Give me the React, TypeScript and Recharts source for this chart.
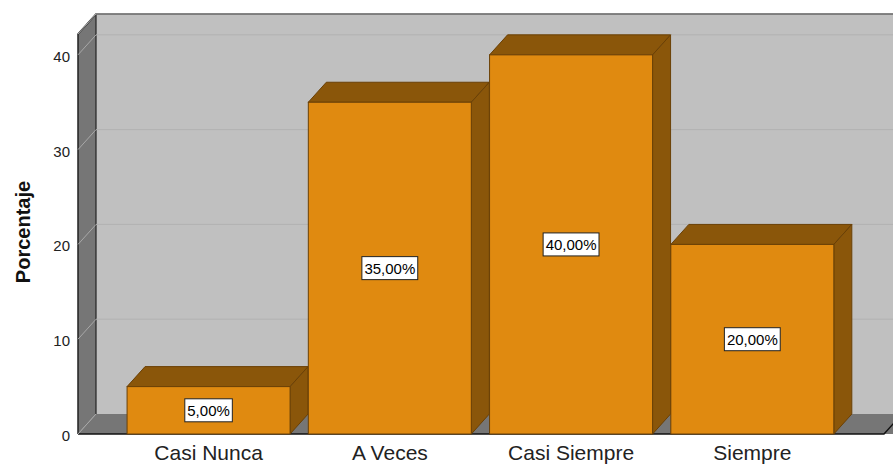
import React from 'react';
import { BarChart, Bar, XAxis, YAxis, CartesianGrid, LabelList } from 'recharts';

const CATEGORIES = ['Casi Nunca', 'A Veces', 'Casi Siempre', 'Siempre'];
const PERCENTAGES = [5, 35, 40, 20];
const Y_TICKS = [0, 10, 20, 30, 40];

const data = CATEGORIES.map((name, i) => ({ name, value: PERCENTAGES[i] }));

// depth of the 3D effect
const DX = 18;
const DY = -20;

const FONT = '"Liberation Sans", Arial, sans-serif';
const FRONT = '#E08A10';
const DARK = '#8A560A';
const EDGE = '#6A4006';

const Bar3D = (props: any) => {
  const { x, y, width: w, height: h } = props;
  if (w == null || h == null) return null;
  return (
    <g>
      <polygon
        points={`${x},${y} ${x + DX},${y + DY} ${x + w + DX},${y + DY} ${x + w},${y}`}
        fill={DARK}
        stroke={EDGE}
        strokeWidth={1}
      />
      <polygon
        points={`${x + w},${y} ${x + w + DX},${y + DY} ${x + w + DX},${y + h + DY} ${x + w},${y + h}`}
        fill={DARK}
        stroke={EDGE}
        strokeWidth={1}
      />
      <rect x={x} y={y} width={w} height={h} fill={FRONT} stroke={EDGE} strokeWidth={1} />
    </g>
  );
};

// walls, floor and grid lines drawn through the grid's line callback
const GridLine = (props: any) => {
  const { x1, x2, y1, index } = props;
  const top = props.y ?? props.offset?.top;
  const height = props.height ?? props.offset?.height;
  const bottom = top + height;
  const w = x2 - x1;
  const isBottom = Math.abs(y1 - bottom) < 0.5;
  return (
    <g>
      {index === 0 && (
        <g>
          <rect x={x1 + DX} y={top + DY} width={w + 20} height={height} fill="#C0C0C0" />
          <polygon
            points={`${x1},${top} ${x1 + DX},${top + DY} ${x1 + DX},${bottom + DY} ${x1},${bottom}`}
            fill="#767676"
          />
          <polygon
            points={`${x1},${bottom} ${x1 + DX},${bottom + DY} ${x2 + DX + 20},${bottom + DY} ${x2 + 20},${bottom} ${x2},${bottom}`}
            fill="#767676"
          />
          <polyline
            points={`${x1},${bottom} ${x1},${top} ${x1 + DX},${top + DY} ${x2 + DX + 20},${top + DY}`}
            fill="none"
            stroke="#222"
            strokeWidth={1.5}
          />
          <line x1={x1 + DX} y1={top + DY} x2={x1 + DX} y2={bottom + DY} stroke="#222" strokeWidth={1.2} />
          <polyline
            points={`${x1},${bottom} ${x2},${bottom} ${x2 + DX},${bottom + DY}`}
            fill="none"
            stroke="#111"
            strokeWidth={1.5}
          />
        </g>
      )}
      {!isBottom && (
        <line x1={x1 + DX} y1={y1 + DY} x2={x2 + DX + 20} y2={y1 + DY} stroke="#B2B2B2" strokeWidth={1} />
      )}
      <line x1={x1} y1={y1} x2={x1 + DX} y2={y1 + DY} stroke="#A8A8A8" strokeWidth={1} />
    </g>
  );
};

const formatPct = (v: number) => `${v.toFixed(2).replace('.', ',')}%`;

const textWidth = (s: string, size: number) => {
  let em = 0;
  for (const c of s) {
    if (c === ',') em += 0.278;
    else if (c === '%') em += 0.889;
    else em += 0.556;
  }
  return em * size;
};

const ValueLabel = (props: any) => {
  const vb = props.viewBox || props;
  const { x, y, width, height } = vb;
  const text = formatPct(Number(props.value));
  const cx = x + width / 2;
  const cy = y + height / 2;
  const tw = textWidth(text, 15) + 5;
  return (
    <g>
      <rect x={cx - tw / 2} y={cy - 11.5} width={tw} height={23} fill="#fff" stroke="#222" strokeWidth={1} />
      <text x={cx} y={cy + 6} textAnchor="middle" fontSize={15} fontFamily={FONT} fill="#000">
        {text}
      </text>
    </g>
  );
};

const YTick = (props: any) => {
  const { x, y, payload } = props;
  return (
    <text x={x} y={y} dy={7} textAnchor="end" fontSize={15} fontFamily={FONT} fill="#222">
      {payload.value}
    </text>
  );
};

const XTick = (props: any) => {
  const { x, y, payload } = props;
  return (
    <text x={x} y={y} dy={18} textAnchor="middle" fontSize={21} fontFamily={FONT} fill="#222">
      {payload.value}
    </text>
  );
};

const YLabel = (props: any) => {
  const vb = props.viewBox;
  const cx = 23;
  const cy = vb.y + vb.height / 2 - 2;
  return (
    <text
      x={cx}
      y={cy}
      transform={`rotate(-90, ${cx}, ${cy})`}
      textAnchor="middle"
      dominantBaseline="central"
      fontSize={20}
      fontWeight="bold"
      fontFamily={FONT}
      fill="#111"
    >
      Porcentaje
    </text>
  );
};

const App = () => {
  return (
    <div style={{ position: 'absolute', left: 0, top: 0, width: 893, height: 465, background: '#fff', overflow: 'hidden' }}>
      <BarChart
        width={893}
        height={465}
        data={data}
        margin={{ top: 34, right: 9, bottom: 0, left: 0 }}
        barCategoryGap="5%"
      >
        <CartesianGrid vertical={false} horizontal={GridLine} />
        <XAxis
          dataKey="name"
          height={31}
          axisLine={false}
          tickLine={false}
          padding={{ left: 40, right: 41 }}
          tick={XTick}
          interval={0}
        />
        <YAxis
          width={78}
          domain={[0, 42.2]}
          ticks={Y_TICKS}
          axisLine={false}
          tickLine={false}
          tick={YTick}
          label={{ content: YLabel }}
        />
        <Bar dataKey="value" shape={Bar3D} isAnimationActive={false}>
          <LabelList dataKey="value" content={ValueLabel} />
        </Bar>
      </BarChart>
    </div>
  );
};

export default App;
